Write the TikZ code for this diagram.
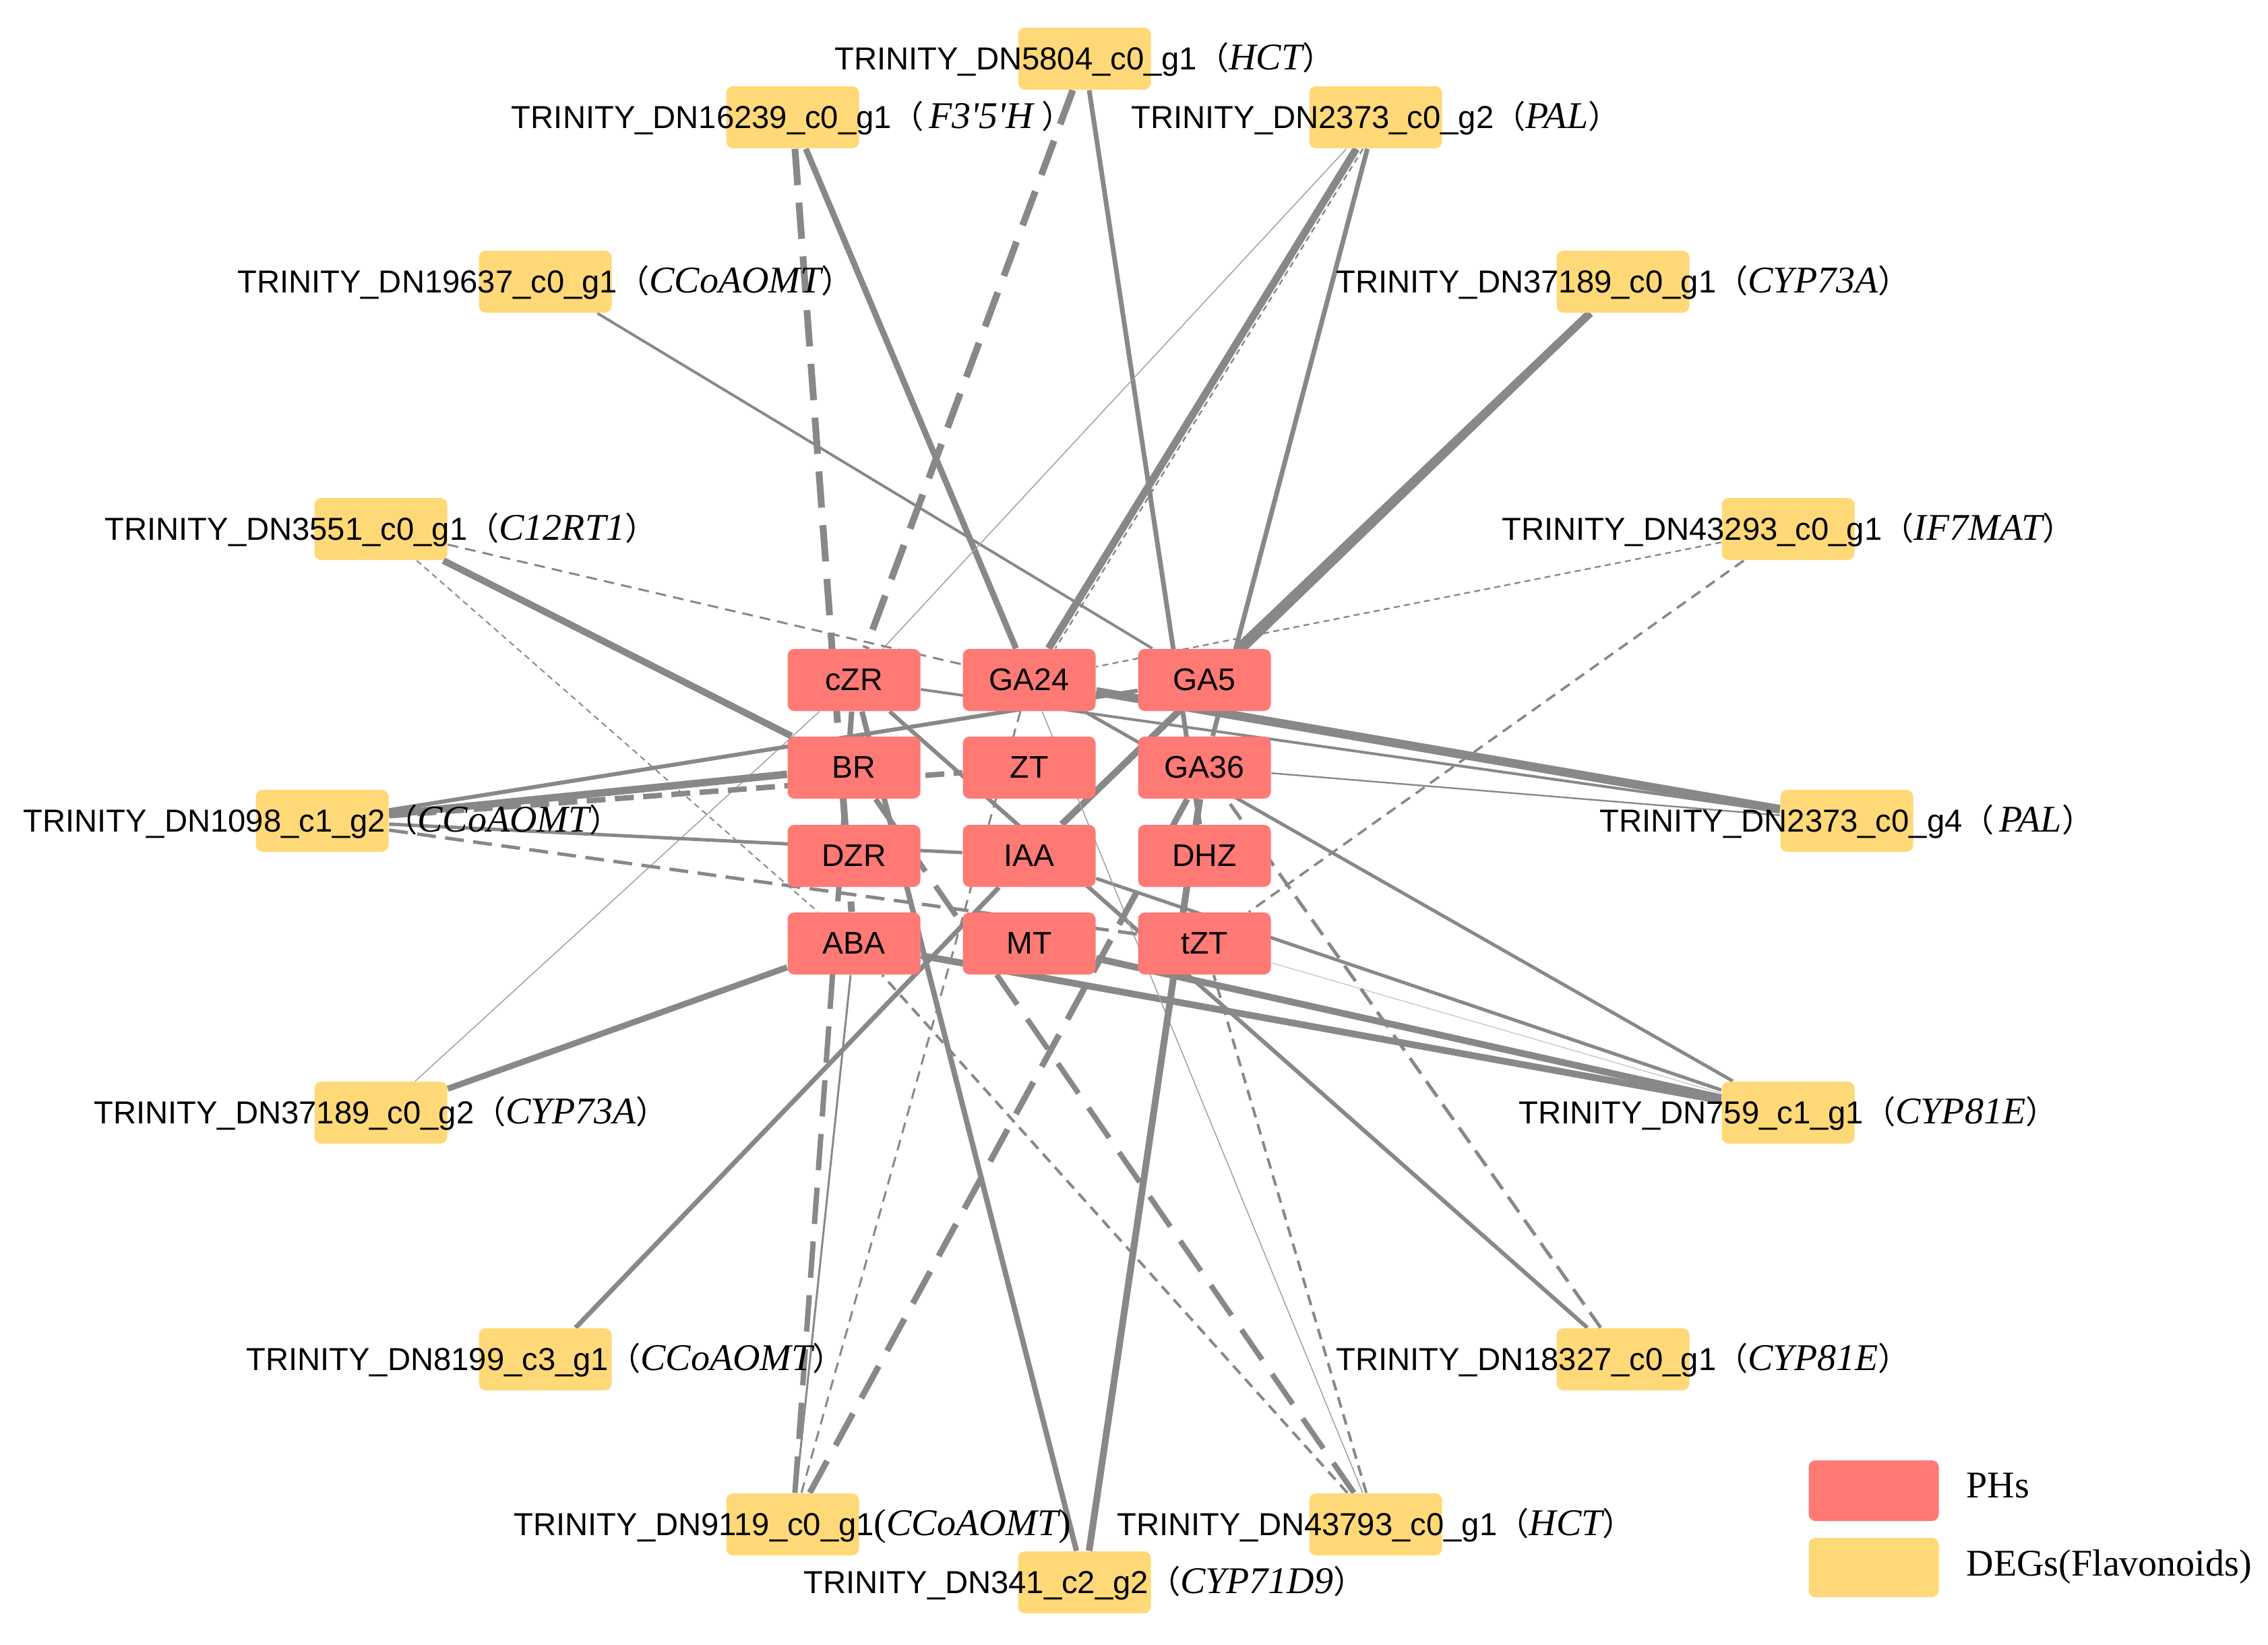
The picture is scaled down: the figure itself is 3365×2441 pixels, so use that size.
\documentclass[tikz,border=0pt]{standalone}
\usepackage{fontspec}
\setmainfont{Liberation Sans}
\newfontfamily\seriffont{Liberation Serif}
\newfontfamily\cjkfont{Noto Sans CJK SC}
\usetikzlibrary{calc}
\pgfdeclarelayer{edges}
\pgfsetlayers{edges,main}
\definecolor{phred}{RGB}{255,121,117}
\definecolor{degyel}{RGB}{255,217,120}
\definecolor{eg}{RGB}{136,136,136}
\definecolor{eglight}{RGB}{165,165,165}
\definecolor{egpale}{RGB}{200,200,200}
\newcommand\gn[1]{{\seriffont\itshape\fontsize{14}{16}\selectfont #1}}
\newcommand\lpar{{\cjkfont （}}
\newcommand\rpar{{\cjkfont ）}}
\tikzset{
  phbox/.style={fill=phred, rounded corners=2.5pt, minimum width=49.25pt, minimum height=23pt, inner sep=0pt, font=\fontsize{11.6}{13}\selectfont},
  degbox/.style={fill=degyel, rounded corners=2.5pt, minimum width=49.25pt, minimum height=23pt, inner sep=0pt},
  lbl/.style={anchor=base, inner sep=0pt, font=\fontsize{11.8}{13}\selectfont},
  legtxt/.style={anchor=base west, inner sep=0pt, font=\seriffont\fontsize{14}{16}\selectfont},
  ed/.style={draw=eg, line cap=butt},
  hair/.style={ed, draw=eglight, line width=0.4pt},
  pale/.style={ed, draw=egpale, line width=0.35pt},
  dthick/.style={dash pattern=on 13.5pt off 6.5pt},
  dmid/.style={dash pattern=on 7pt off 3.5pt},
  dthin/.style={dash pattern=on 4pt off 2.6pt},
  dfine/.style={dash pattern=on 2.2pt off 1.6pt}
}
\begin{document}
\begin{tikzpicture}[x=0.25pt,y=-0.25pt]
\useasboundingbox (0,0) rectangle (3365,2441);
% PH nodes
\node[phbox] (czr)  at (1267,1009) {cZR};
\node[phbox] (ga24) at (1527,1009) {GA24};
\node[phbox] (ga5)  at (1787,1009) {GA5};
\node[phbox] (br)   at (1267,1139) {BR};
\node[phbox] (zt)   at (1527,1139) {ZT};
\node[phbox] (ga36) at (1787,1139) {GA36};
\node[phbox] (dzr)  at (1267,1270) {DZR};
\node[phbox] (iaa)  at (1527,1270) {IAA};
\node[phbox] (dhz)  at (1787,1270) {DHZ};
\node[phbox] (aba)  at (1267,1400) {ABA};
\node[phbox] (mt)   at (1527,1400) {MT};
\node[phbox] (tzt)  at (1787,1400) {tZT};
% DEG nodes
\node[degbox] (d5804)   at (1609,87)   {};
\node[degbox] (d2373b)  at (2041,174)  {};
\node[degbox] (d37189a) at (2408,418)  {};
\node[degbox] (d43293)  at (2653,785)  {};
\node[degbox] (d2373d)  at (2740,1218) {};
\node[degbox] (d759)    at (2653,1651) {};
\node[degbox] (d18327)  at (2408,2017) {};
\node[degbox] (d43793)  at (2041,2262) {};
\node[degbox] (d341)    at (1609,2348) {};
\node[degbox] (d9119)   at (1176,2262) {};
\node[degbox] (d8199)   at (809,2017)  {};
\node[degbox] (d37189b) at (565,1651)  {};
\node[degbox] (d1098)   at (478,1218)  {};
\node[degbox] (d3551)   at (565,785)   {};
\node[degbox] (d19637)  at (809,418)   {};
\node[degbox] (d16239)  at (1176,174)  {};
% labels
\node[lbl] (t5804)   at (1609,103)  {TRINITY\_DN5804\_c0\_g1\lpar\gn{HCT}\rpar};
\node[lbl] (t2373b)  at (2041,190)  {TRINITY\_DN2373\_c0\_g2\lpar\gn{PAL}\rpar};
\node[lbl] (t37189a) at (2408,434)  {TRINITY\_DN37189\_c0\_g1\lpar\gn{CYP73A}\rpar};
\node[lbl] (t43293)  at (2653,801)  {TRINITY\_DN43293\_c0\_g1\lpar\gn{IF7MAT}\rpar};
\node[lbl] (t2373d)  at (2740,1234) {TRINITY\_DN2373\_c0\_g4\lpar\,\gn{PAL}\rpar};
\node[lbl] (t759)    at (2653,1667) {TRINITY\_DN759\_c1\_g1\lpar\gn{CYP81E}\rpar};
\node[lbl] (t18327)  at (2408,2033) {TRINITY\_DN18327\_c0\_g1\lpar\gn{CYP81E}\rpar};
\node[lbl] (t43793)  at (2041,2278) {TRINITY\_DN43793\_c0\_g1\lpar\gn{HCT}\rpar};
\node[lbl] (t341)    at (1609,2364) {TRINITY\_DN341\_c2\_g2\lpar\gn{CYP71D9}\rpar};
\node[lbl] (t9119)   at (1176,2278) {TRINITY\_DN9119\_c0\_g1{\seriffont\fontsize{14}{16}\selectfont(}\gn{CCoAOMT}{\seriffont\fontsize{14}{16}\selectfont)}};
\node[lbl] (t8199)   at (809,2033)  {TRINITY\_DN8199\_c3\_g1\lpar\gn{CCoAOMT}\rpar};
\node[lbl] (t37189b) at (565,1667)  {TRINITY\_DN37189\_c0\_g2\lpar\gn{CYP73A}\rpar};
\node[lbl] (t1098)   at (478,1234)  {TRINITY\_DN1098\_c1\_g2\lpar\gn{CCoAOMT}\rpar};
\node[lbl] (t3551)   at (565,801)   {TRINITY\_DN3551\_c0\_g1\lpar\gn{C12RT1}\rpar};
\node[lbl] (t19637)  at (809,434)   {TRINITY\_DN19637\_c0\_g1\lpar\gn{CCoAOMT}\rpar};
\node[lbl] (t16239)  at (1176,190)  {TRINITY\_DN16239\_c0\_g1\lpar\,\gn{F3'5'H}\ \rpar};
% legend
\node[phbox, minimum width=48.25pt, minimum height=22.5pt] (legph) at (2780,2212) {};
\node[degbox, minimum width=48.25pt, minimum height=22pt] (legdeg) at (2780,2326) {};
\node[legtxt] (legpht) at (2917,2222) {PHs};
\node[legtxt] (legdegt) at (2917,2338) {DEGs(Flavonoids)};
% edges
\begin{pgfonlayer}{edges}
\draw[ed, line width=2.5pt, dthick] (d5804) -- (czr);
\draw[ed, line width=1.75pt] (d5804) -- (dhz);
\draw[ed, line width=2.5pt, dthick] (d16239) -- (aba);
\draw[ed, line width=2.25pt] (d16239) -- (ga24);
\draw[ed, line width=1pt] (d19637) -- (ga5);
\draw[hair] (d2373b) -- (czr);
\draw[ed, line width=2.75pt] (d2373b) -- (ga24);
\draw[ed, line width=0.6pt, dfine, transform canvas={xshift=2.5pt}] (d2373b) -- (ga24);
\draw[ed, line width=1.75pt] (d2373b) -- (ga36);
\draw[ed, line width=3pt] (d37189a) -- (ga5);
\draw[ed, line width=2.5pt] (d37189a) -- (iaa);
\draw[ed, line width=0.6pt, dfine] (d43293) -- (ga24);
\draw[ed, line width=0.9pt, dthin] (d43293) -- (tzt);
\draw[ed, line width=3.25pt] (d2373d) -- (ga24);
\draw[ed, line width=1pt] (d2373d) -- (czr);
\draw[ed, line width=0.6pt] (d2373d) -- (ga36);
\draw[ed, line width=1.25pt] (d759) -- (ga24);
\draw[ed, line width=1.25pt] (d759) -- (iaa);
\draw[pale] (d759) -- (tzt);
\draw[ed, line width=2.5pt] (d759) -- (mt);
\draw[ed, line width=2.5pt] (d759) -- (aba);
\draw[ed, line width=1.5pt] (d18327) -- (czr);
\draw[ed, line width=1.25pt, dmid] (d18327) -- (ga36);
\draw[ed, line width=1pt, dthin] (d43793) -- (aba);
\draw[ed, line width=2pt, dthick] (d43793) -- (br);
\draw[ed, line width=1pt, dthin] (d43793) -- (tzt);
\draw[hair] (d43793) -- (ga24);
\draw[ed, line width=2pt] (d341) -- (czr);
\draw[ed, line width=2.5pt] (d341) -- (ga36);
\draw[ed, line width=0.75pt] (d9119) -- (aba);
\draw[ed, line width=2pt, dthick] (d9119) -- (czr);
\draw[ed, line width=0.75pt, dthin] (d9119) -- (ga24);
\draw[ed, line width=2.25pt, dthick] (d9119) -- (ga36);
\draw[ed, line width=1.75pt] (d8199) -- (iaa);
\draw[hair] (d37189b) -- (czr);
\draw[ed, line width=2.25pt] (d37189b) -- (aba);
\draw[ed, line width=1.5pt] (d1098) -- (ga5);
\draw[ed, line width=2.75pt] (d1098) -- (br);
\draw[ed, line width=2pt, dmid] (d1098) -- (zt);
\draw[ed, line width=1.25pt] (d1098) -- (iaa);
\draw[ed, line width=1.25pt, dmid] (d1098) -- (tzt);
\draw[ed, line width=2.5pt] (d3551) -- (br);
\draw[ed, line width=0.75pt, dthin] (d3551) -- (ga24);
\draw[ed, line width=0.5pt, dfine] (d3551) -- (aba);
\end{pgfonlayer}
\end{tikzpicture}
\end{document}
